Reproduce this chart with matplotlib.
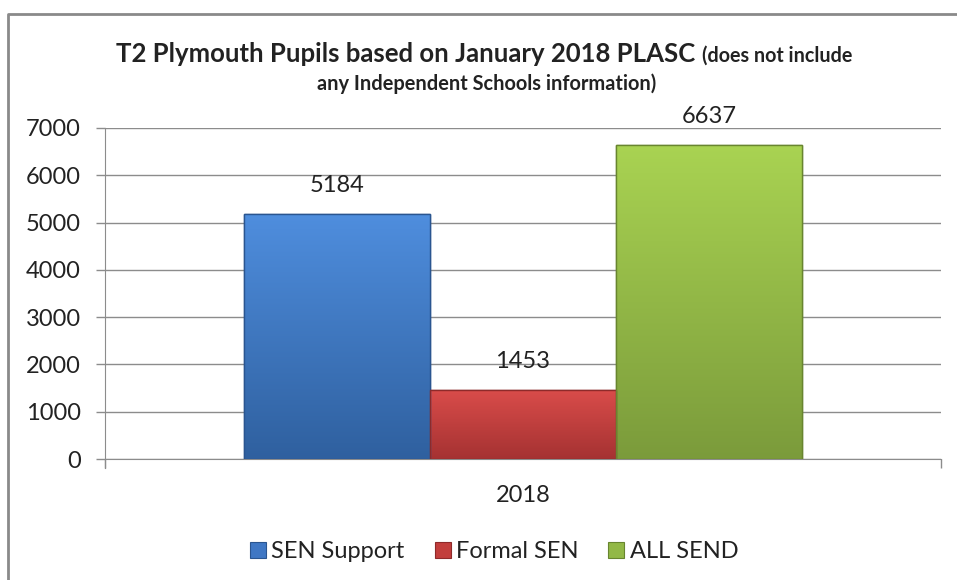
import numpy as np
import matplotlib
matplotlib.use("Agg")
import matplotlib.pyplot as plt
from matplotlib.colors import LinearSegmentedColormap
from matplotlib.lines import Line2D

plt.rcParams['font.family'] = ['Lato', 'DejaVu Sans']

category = "2018"
series = ["SEN Support", "Formal SEN", "ALL SEND"]
values = [5184, 1453, 6637]
y_ticks = [0, 1000, 2000, 3000, 4000, 5000, 6000, 7000]

# top colour, bottom colour, edge colour for each series
top_cols = ["#4f8ede", "#d94c4a", "#a9d352"]
bot_cols = ["#2f609f", "#a53232", "#7b9b3b"]
edge_cols = ["#2a5590", "#8e2a2a", "#68852f"]
legend_cols = ["#3f77c4", "#c23e3c", "#92b846"]

txt_col = "#222222"
grid_col = "#8c8c8c"

fig = plt.figure(figsize=(9.57, 5.8), dpi=100)
ax = fig.add_axes([105 / 957, 1 - 459 / 580, 836 / 957, 331 / 580])

width = 0.2225
for i, v in enumerate(values):
    x = (i - 1) * width
    bar = ax.bar(x, v, width=width, color=legend_cols[i], edgecolor=edge_cols[i],
                 linewidth=1.0, zorder=3)[0]
    # vertical shading like the excel bars
    cmap = LinearSegmentedColormap.from_list("g%d" % i, [top_cols[i], bot_cols[i]])
    grad = np.linspace(0, 1, 256).reshape(-1, 1)
    im = ax.imshow(grad, cmap=cmap, aspect='auto', zorder=3.5,
                   extent=[x - width / 2, x + width / 2, 0, v], origin='upper')
    im.set_clip_path(bar)
    ax.add_patch(plt.Rectangle((x - width / 2, 0), width, v, fill=False,
                               edgecolor=edge_cols[i], linewidth=1.0, zorder=4))
    ax.annotate(str(v), (x, v), xytext=(0, 13), textcoords='offset points',
                ha='center', va='bottom', fontsize=17, color=txt_col)

ax.set_xlim(-0.5, 0.5)
ax.set_ylim(0, 7000)
ax.set_yticks(y_ticks)
ax.set_yticklabels([str(t) for t in y_ticks])
ax.yaxis.grid(True, color=grid_col, linewidth=1.0, zorder=0)
ax.set_axisbelow(True)

ax.set_xticks([0])
ax.set_xticklabels([category])
ax.set_xticks([-0.5, 0.5], minor=True)
ax.tick_params(axis='x', which='major', length=0, pad=19, labelsize=17, labelcolor=txt_col)
ax.tick_params(axis='x', which='minor', length=6.5, color=grid_col, width=1.0)
ax.tick_params(axis='y', length=6.5, color=grid_col, width=1.0, pad=11,
               labelsize=17, labelcolor=txt_col)

for s in ['top', 'right']:
    ax.spines[s].set_visible(False)
ax.spines['left'].set_color(grid_col)
ax.spines['bottom'].set_color(grid_col)
ax.spines['left'].set_bounds(-190, 7000)

# legend
handles = [Line2D([], [], marker='s', linestyle='none', markersize=11.5,
                  markerfacecolor=c, markeredgecolor=e, markeredgewidth=0.8)
           for c, e in zip(legend_cols, edge_cols)]
fig.legend(handles, series, loc='center', bbox_to_anchor=(494 / 957, 1 - 552 / 580),
           ncol=3, frameon=False, fontsize=17, handlelength=0.72, handletextpad=0.2,
           columnspacing=1.25, labelcolor=txt_col, borderpad=0)

# title: bold main part followed by a smaller bold note
fig.canvas.draw()
renderer = fig.canvas.get_renderer()
y1 = 1 - 62 / 580
t1 = fig.text(0, y1, "T2 Plymouth Pupils based on January 2018 PLASC ",
              fontsize=18.5, fontweight='bold', color=txt_col, va='baseline')
t2 = fig.text(0, y1, "(does not include", fontsize=14.2, fontweight='bold',
              color=txt_col, va='baseline')
w1 = t1.get_window_extent(renderer).width
w2 = t2.get_window_extent(renderer).width
start = 484 - (w1 + w2) / 2
t1.set_x(start / 957)
t2.set_x((start + w1) / 957)
fig.text(487 / 957, 1 - 90 / 580, "any Independent Schools information)", fontsize=14.4,
         fontweight='bold', color=txt_col, ha='center', va='baseline')

# chart frame
fig.add_artist(Line2D([8 / 957, 8 / 957, 1], [0, 1 - 14 / 580, 1 - 14 / 580],
                      color="#8a8a8a", linewidth=2.0, transform=fig.transFigure))

fig.savefig("out.png", dpi=100)
